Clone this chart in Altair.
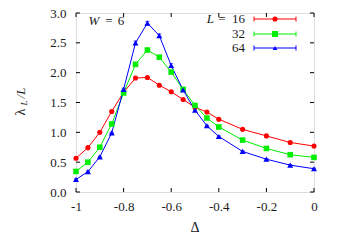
import altair as alt
import pandas as pd

delta = [-1.0, -0.95, -0.9, -0.85, -0.8, -0.75, -0.7, -0.65, -0.6, -0.55, -0.5, -0.45, -0.4, -0.3, -0.2, -0.1, 0.0]
lam16 = [0.566, 0.743, 1.00, 1.35, 1.67, 1.91, 1.92, 1.79, 1.68, 1.55, 1.42, 1.34, 1.22, 1.05, 0.94, 0.83, 0.77]
lam32 = [0.345, 0.50, 0.75, 1.14, 1.66, 2.14, 2.38, 2.26, 2.01, 1.72, 1.45, 1.24, 1.09, 0.87, 0.73, 0.625, 0.58]
lam64 = [0.21, 0.34, 0.59, 0.99, 1.72, 2.50, 2.83, 2.62, 2.12, 1.71, 1.37, 1.11, 0.93, 0.68, 0.55, 0.45, 0.39]
err16 = [0.005] * 17
err32 = [0.01] * 17
err64 = [0.01, 0.01, 0.01, 0.01, 0.02, 0.03, 0.03, 0.03, 0.03, 0.02, 0.015, 0.01, 0.01, 0.01, 0.01, 0.01, 0.01]
sizes = ["16", "32", "64"]
colors = ["#ff0000", "#00ee00", "#0000ff"]
shapes = ["circle", "square", "triangle-up"]
x_ticks = [-1.0, -0.8, -0.6, -0.4, -0.2, 0.0]
y_ticks = [0.0, 0.5, 1.0, 1.5, 2.0, 2.5, 3.0]

W, H = 238, 179
TOP = 5
FONT = "Liberation Serif"
TXT = "#1a1a1a"

rows = []
for L, vals, errs in zip(sizes, [lam16, lam32, lam64], [err16, err32, err64]):
    for d, v, e in zip(delta, vals, errs):
        rows.append({"delta": d, "lam": v, "lo": v - e, "hi": v + e, "L": L})
df = pd.DataFrame(rows)

xs = alt.Scale(domain=[-1, 0], nice=False, zero=False)
ys = alt.Scale(domain=[0, 3], nice=False)
cs = alt.Scale(domain=sizes, range=colors)
ss = alt.Scale(domain=sizes, range=shapes)

xax = alt.Axis(values=x_ticks, labelExpr="toString(datum.value)", ticks=False, tickSize=0, domain=False,
               grid=False, labelFont=FONT, labelFontSize=13, labelColor=TXT, labelPadding=8, title=None,
               labelFlush=False, labelOverlap=False)
yax = alt.Axis(values=y_ticks, format=".1f", ticks=False, tickSize=0, domain=False, grid=False,
               labelFont=FONT, labelFontSize=13, labelColor=TXT, labelPadding=10, title=None,
               labelOverlap=False, labelFlush=False)


def X(f):
    return alt.X(f, scale=xs, axis=xax)


def Y(f):
    return alt.Y(f, scale=ys, axis=yax)


col = alt.Color("L:N", scale=cs, legend=None)

base = alt.Chart(df)
lines = base.mark_line(strokeWidth=1).encode(x=X("delta:Q"), y=Y("lam:Q"), color=col, detail="L:N")
ebars = base.mark_rule(strokeWidth=1).encode(x=X("delta:Q"), y=Y("lo:Q"), y2="hi:Q", color=col)
caps_lo = base.mark_tick(orient="horizontal", size=4, thickness=1).encode(x=X("delta:Q"), y=Y("lo:Q"), color=col)
caps_hi = base.mark_tick(orient="horizontal", size=4, thickness=1).encode(x=X("delta:Q"), y=Y("hi:Q"), color=col)
pts = base.mark_point(filled=True, opacity=1).encode(
    x=X("delta:Q"), y=Y("lam:Q"), color=col,
    shape=alt.Shape("L:N", scale=ss, legend=None),
    size=alt.Size("L:N", scale=alt.Scale(domain=sizes, range=[26, 36, 22]), legend=None),
)

# inward mirrored ticks
xt = pd.DataFrame({"t": x_ticks})
yt = pd.DataFrame({"t": y_ticks})
tk = dict(color="#000", strokeWidth=1)
t_bot = alt.Chart(xt).mark_rule(**tk).encode(x=X("t:Q"), y=alt.value(H), y2=alt.value(H - 4))
t_top = alt.Chart(xt).mark_rule(**tk).encode(x=X("t:Q"), y=alt.value(0), y2=alt.value(4))
t_left = alt.Chart(yt).mark_rule(**tk).encode(y=Y("t:Q"), x=alt.value(0), x2=alt.value(4))
t_right = alt.Chart(yt).mark_rule(**tk).encode(y=Y("t:Q"), x=alt.value(W), x2=alt.value(W - 4))

one = pd.DataFrame({"a": [0]})
OY = 8 + TOP  # page y of plot top


def txt(s, x, y, size=13, italic=False, align="center", angle=0, baseline="middle"):
    kw = dict(text=s, font=FONT, fontSize=size, color=TXT, align=align, baseline=baseline)
    if italic:
        kw["fontStyle"] = "italic"
    if angle:
        kw["angle"] = angle
    return alt.Chart(one).mark_text(**kw).encode(x=alt.value(x), y=alt.value(y - OY))


texts = [
    txt("W", 18, 21, italic=True),
    txt("=", 33, 21),
    txt("6", 45, 21),
    txt("Δ", W / 2, 228, size=14),
    txt("λ", -51, 112, size=14, angle=270, baseline="alphabetic"),
    txt("L", -49, 103, size=9, italic=True, angle=270, baseline="alphabetic"),
    txt("/L", -51, 93, size=13, italic=True, angle=270, baseline="alphabetic"),
]

leg_layers = []
leg_y = [19, 34, 48]
leg_lbl = ["16", "32", "64"]
for i, L in enumerate(sizes):
    yv = leg_y[i] - OY
    c = colors[i]
    leg_layers.append(txt(leg_lbl[i], 169, leg_y[i], align="right"))
    leg_layers.append(alt.Chart(one).mark_rule(color=c, strokeWidth=1).encode(
        x=alt.value(178), x2=alt.value(220), y=alt.value(yv)))
    for xe in (178, 220):
        leg_layers.append(alt.Chart(one).mark_rule(color=c, strokeWidth=1).encode(
            x=alt.value(xe), y=alt.value(yv - 2.5), y2=alt.value(yv + 2.5)))
    leg_layers.append(alt.Chart(one).mark_point(filled=True, opacity=1, color=c, shape=shapes[i],
                                               size=[26, 36, 22][i]).encode(
        x=alt.value(199), y=alt.value(yv)))
leg_layers.append(txt("L", 138, 19, italic=True, align="right"))
leg_layers.append(txt("=", 146, 19))

chart = alt.layer(
    lines, ebars, caps_lo, caps_hi, pts, t_bot, t_top, t_left, t_right, *texts, *leg_layers
).properties(
    width=W, height=H,
    autosize=alt.AutoSizeParams(type="none"),
    padding={"left": 68, "top": TOP, "right": 14, "bottom": 45},
).configure_view(stroke="#000", strokeWidth=1).configure(background="white")

chart.save("out.html", embed_options={"renderer": "svg", "actions": False})
